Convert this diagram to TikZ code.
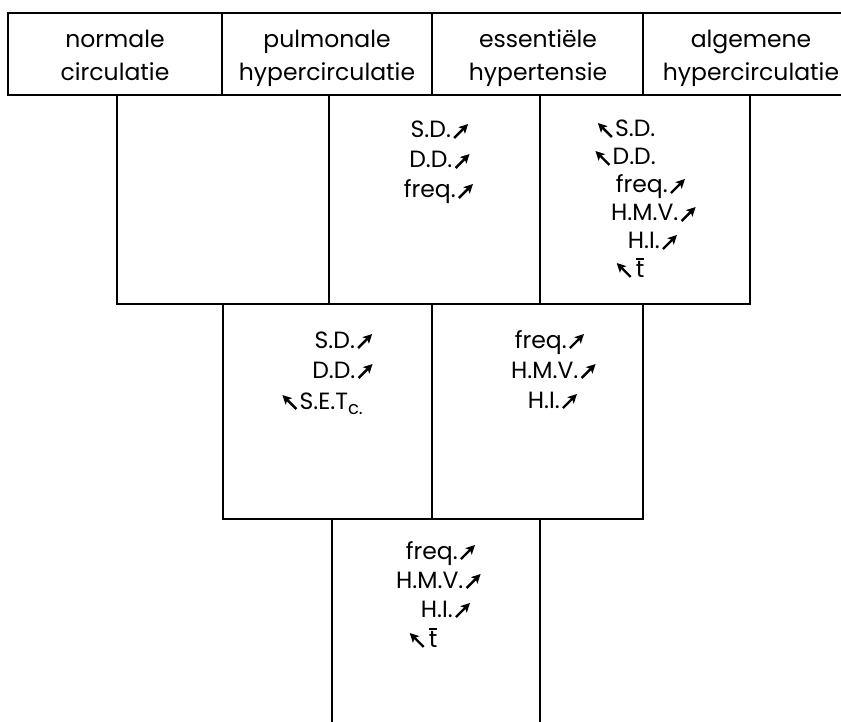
\documentclass[tikz,border=0pt]{standalone}
\usepackage{fontspec}
\setmainfont{Poppins}
\usetikzlibrary{arrows.meta}

% rising and falling trend arrows set inline with the text
\tikzset{trend/.style={line width=2.4pt,-{Stealth[length=9pt,width=9pt,inset=2pt]}}}
\newcommand\arrup{\tikz[baseline=0pt]\draw[trend] (0pt,0pt) -- (14pt,14pt);}
\newcommand\arrdn{\tikz[baseline=0pt]\draw[trend] (14pt,0pt) -- (0pt,14pt);}
% t with a bar over it
\newcommand\tbar{\setbox0\hbox{t}\rlap{\hbox to \wd0{\hss\raisebox{17pt}{\rule{8pt}{2pt}}\hss}}t}
% lowered index
\newcommand\lowidx[1]{\raisebox{-5pt}{\fontsize{18}{18}\selectfont #1}}

\begin{document}
\begin{tikzpicture}[x=1pt,y=-1pt,
  frame/.style={line width=2.3pt,line join=miter},
  hdrframe/.style={line width=2.8pt,line join=miter},
  txt/.style={anchor=base,inner sep=0pt,font=\fontsize{23.5}{29}\selectfont}]

\useasboundingbox (0,0) rectangle (841,722);

% header row
\draw[hdrframe] (8,13) rectangle (880,95);
\draw[hdrframe] (222,13) -- (222,95) (432,13) -- (432,95) (643,13) -- (643,95);

\node[txt] (h1a) at (115,48) {normale};
\node[txt] (h1b) at (115,81) {circulatie};
\node[txt] (h2a) at (327,48) {pulmonale};
\node[txt] (h2b) at (327,81) {hypercirculatie};
\node[txt] (h3a) at (538,48) {essentiële};
\node[txt] (h3b) at (538,81) {hypertensie};
\node[txt] (h4a) at (751,48) {algemene};
\node[txt] (h4b) at (751,81) {hypercirculatie};

% second row: three cells
\draw[frame] (117,95) -- (117,304) -- (750,304) -- (750,95);
\draw[frame] (329,95) -- (329,304) (540,95) -- (540,304);

\node[txt] (b2a) at (440,138) {S.D.\hspace{2pt}\arrup};
\node[txt] (b2b) at (440,168) {D.D.\hspace{2pt}\arrup};
\node[txt] (b2c) at (439,198) {freq.\hspace{2pt}\arrup};

\node[txt] (c2a) at (626,137) {\arrdn\hspace{2pt}S.D.};
\node[txt] (c2b) at (625,165) {\arrdn\hspace{2pt}D.D.};
\node[txt] (c2c) at (651,193) {freq.\hspace{2pt}\arrup};
\node[txt] (c2d) at (654,221) {H.M.V.\hspace{2pt}\arrup};
\node[txt] (c2e) at (653,249) {H.I.\hspace{2pt}\arrup};
\node[txt] (c2f) at (630,277) {\arrdn\hspace{4pt}\tbar};

% third row: two cells
\draw[frame] (223,304) -- (223,519) -- (643,519) -- (643,304);
\draw[frame] (432,304) -- (432,519);

\node[txt] (a3a) at (344,348) {S.D.\hspace{2pt}\arrup};
\node[txt] (a3b) at (343,378) {D.D.\hspace{2pt}\arrup};
\node[txt] (a3c) at (322,409) {\arrdn\hspace{2pt}S.E.T\lowidx{c.}};

\node[txt] (b3a) at (550,348) {freq.\hspace{2pt}\arrup};
\node[txt] (b3b) at (554,378) {H.M.V.\hspace{2pt}\arrup};
\node[txt] (b3c) at (553,408) {H.I.\hspace{2pt}\arrup};

% bottom row: one open cell
\draw[frame] (332,519) -- (332,722) (540,519) -- (540,722);

\node[txt] (d4a) at (441,559) {freq.\hspace{2pt}\arrup};
\node[txt] (d4b) at (439,588) {H.M.V.\hspace{2pt}\arrup};
\node[txt] (d4c) at (446,617) {H.I.\hspace{2pt}\arrup};
\node[txt] (d4d) at (423,647) {\arrdn\hspace{4pt}\tbar};

\end{tikzpicture}
\end{document}
